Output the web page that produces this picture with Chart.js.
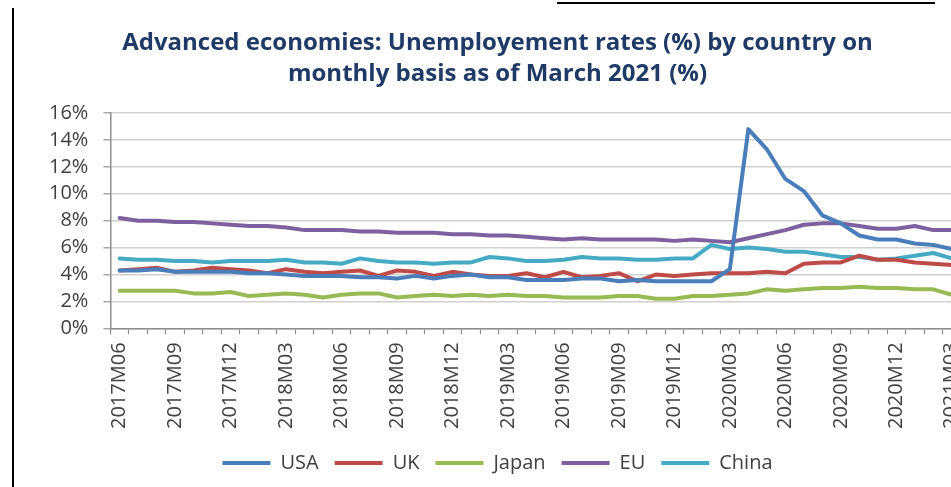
<!DOCTYPE html>
<html>
<head>
<meta charset="utf-8">
<script src="https://cdn.jsdelivr.net/npm/chart.js@4.4.1/dist/chart.umd.min.js"></script>
<style>
  html, body { margin: 0; padding: 0; background: #fff; overflow: hidden; }
  body { width: 951px; height: 487px; position: relative; }
  #wrap { position: absolute; left: 0; top: 0; width: 1000px; height: 487px; }
  .edge { position: absolute; background: #000; }
</style>
</head>
<body>
<div id="wrap"><canvas id="chart"></canvas></div>
<div class="edge" style="left:12px; top:8px; width:1.5px; height:479px;"></div>
<div class="edge" style="left:557px; top:2px; width:378px; height:2px;"></div>
<script>
// Monthly unemployment rates (%), 2017M06 .. 2021M03
const months = [
  '2017M06', '2017M07', '2017M08', '2017M09', '2017M10', '2017M11', '2017M12',
  '2018M01', '2018M02', '2018M03', '2018M04', '2018M05', '2018M06', '2018M07',
  '2018M08', '2018M09', '2018M10', '2018M11', '2018M12', '2019M01', '2019M02',
  '2019M03', '2019M04', '2019M05', '2019M06', '2019M07', '2019M08', '2019M09',
  '2019M10', '2019M11', '2019M12', '2020M01', '2020M02', '2020M03', '2020M04',
  '2020M05', '2020M06', '2020M07', '2020M08', '2020M09', '2020M10', '2020M11',
  '2020M12', '2021M01', '2021M02', '2021M03'
];

const usa = [4.3, 4.3, 4.4, 4.2, 4.2, 4.2, 4.2, 4.1, 4.1, 4.0, 3.9,
  3.9, 3.9, 3.8, 3.8, 3.7, 3.9, 3.7, 3.9, 4.0, 3.8, 3.8, 3.6,
  3.6, 3.6, 3.7, 3.7, 3.5, 3.6, 3.5, 3.5, 3.5, 3.5, 4.4,
  14.8, 13.3, 11.1, 10.2, 8.4, 7.8, 6.9, 6.6, 6.6, 6.3, 6.2, 5.9];
const uk = [4.3, 4.4, 4.5, 4.2, 4.3, 4.5, 4.4, 4.3, 4.1, 4.4, 4.2,
  4.1, 4.2, 4.3, 3.9, 4.3, 4.2, 3.9, 4.2, 4.0, 3.9, 3.9, 4.1,
  3.8, 4.2, 3.8, 3.9, 4.1, 3.5, 4.0, 3.9, 4.0, 4.1, 4.1,
  4.1, 4.2, 4.1, 4.8, 4.9, 4.9, 5.4, 5.1, 5.1, 4.9, 4.8, 4.7];
const japan = [2.8, 2.8, 2.8, 2.8, 2.6, 2.6, 2.7, 2.4, 2.5, 2.6, 2.5,
  2.3, 2.5, 2.6, 2.6, 2.3, 2.4, 2.5, 2.4, 2.5, 2.4, 2.5, 2.4,
  2.4, 2.3, 2.3, 2.3, 2.4, 2.4, 2.2, 2.2, 2.4, 2.4, 2.5,
  2.6, 2.9, 2.8, 2.9, 3.0, 3.0, 3.1, 3.0, 3.0, 2.9, 2.9, 2.5];
const eu = [8.2, 8.0, 8.0, 7.9, 7.9, 7.8, 7.7, 7.6, 7.6, 7.5, 7.3,
  7.3, 7.3, 7.2, 7.2, 7.1, 7.1, 7.1, 7.0, 7.0, 6.9, 6.9, 6.8,
  6.7, 6.6, 6.7, 6.6, 6.6, 6.6, 6.6, 6.5, 6.6, 6.5, 6.4,
  6.7, 7.0, 7.3, 7.7, 7.8, 7.8, 7.6, 7.4, 7.4, 7.6, 7.3, 7.3];
const china = [5.2, 5.1, 5.1, 5.0, 5.0, 4.9, 5.0, 5.0, 5.0, 5.1, 4.9,
  4.9, 4.8, 5.2, 5.0, 4.9, 4.9, 4.8, 4.9, 4.9, 5.3, 5.2, 5.0,
  5.0, 5.1, 5.3, 5.2, 5.2, 5.1, 5.1, 5.2, 5.2, 6.2, 5.9,
  6.0, 5.9, 5.7, 5.7, 5.5, 5.3, 5.3, 5.1, 5.2, 5.4, 5.6, 5.2];

const yTicks = [0, 2, 4, 6, 8, 10, 12, 14, 16];

const FONT = "'Open Sans', 'DejaVu Sans', sans-serif";
const TEXT = '#404040';
const AXIS = '#8c8c8c';

function series(label, data, color) {
  return {
    label,
    data,
    borderColor: color,
    backgroundColor: color,
    borderWidth: 4,
    pointRadius: 0,
    pointHoverRadius: 0,
    tension: 0,
    fill: false,
    borderJoinStyle: 'round',
    borderCapStyle: 'round'
  };
}

new Chart(document.getElementById('chart'), {
  type: 'line',
  data: {
    labels: months,
    datasets: [
      series('USA', usa, '#4a7ebb'),
      series('UK', uk, '#be4b48'),
      series('Japan', japan, '#98b954'),
      series('EU', eu, '#7d60a0'),
      series('China', china, '#46aac5')
    ]
  },
  options: {
    responsive: true,
    maintainAspectRatio: false,
    animation: false,
    layout: { padding: { left: 34, right: 39, top: 0, bottom: 4 } },
    plugins: {
      title: {
        display: true,
        text: ['Advanced economies: Unemployement rates (%) by country on',
               'monthly basis as of March 2021 (%)'],
        color: '#1f3a66',
        font: { family: FONT, size: 24, weight: 'bold', lineHeight: 1.27 },
        padding: { top: 28, bottom: 24 }
      },
      legend: {
        position: 'bottom',
        labels: {
          color: TEXT,
          font: { family: FONT, size: 20 },
          usePointStyle: true,
          pointStyle: 'line',
          pointStyleWidth: 48,
          boxHeight: 20,
          padding: 16
        }
      },
      tooltip: { enabled: false }
    },
    scales: {
      x: {
        offset: true,
        grid: {
          offset: true,
          drawOnChartArea: false,
          drawTicks: true,
          tickLength: 6,
          tickColor: AXIS,
          tickWidth: 1.2
        },
        border: { display: true, color: AXIS, width: 1.5 },
        ticks: {
          color: TEXT,
          font: { family: FONT, size: 20 },
          autoSkip: false,
          minRotation: 90,
          maxRotation: 90,
          padding: 8,
          callback: function (value, index) {
            return index % 3 === 0 ? this.getLabelForValue(value) : '';
          }
        }
      },
      y: {
        min: yTicks[0],
        max: yTicks[yTicks.length - 1],
        afterBuildTicks: (scale) => { scale.ticks = yTicks.map(v => ({ value: v })); },
        grid: {
          color: '#d0d0d0',
          lineWidth: 1.5,
          tickLength: 7,
          tickColor: '#a8a8a8'
        },
        border: { display: true, color: AXIS, width: 1.5 },
        ticks: {
          color: TEXT,
          font: { family: FONT, size: 20 },
          padding: 15,
          autoSkip: false,
          callback: v => v + '%'
        }
      }
    }
  }
});
</script>
</body>
</html>
